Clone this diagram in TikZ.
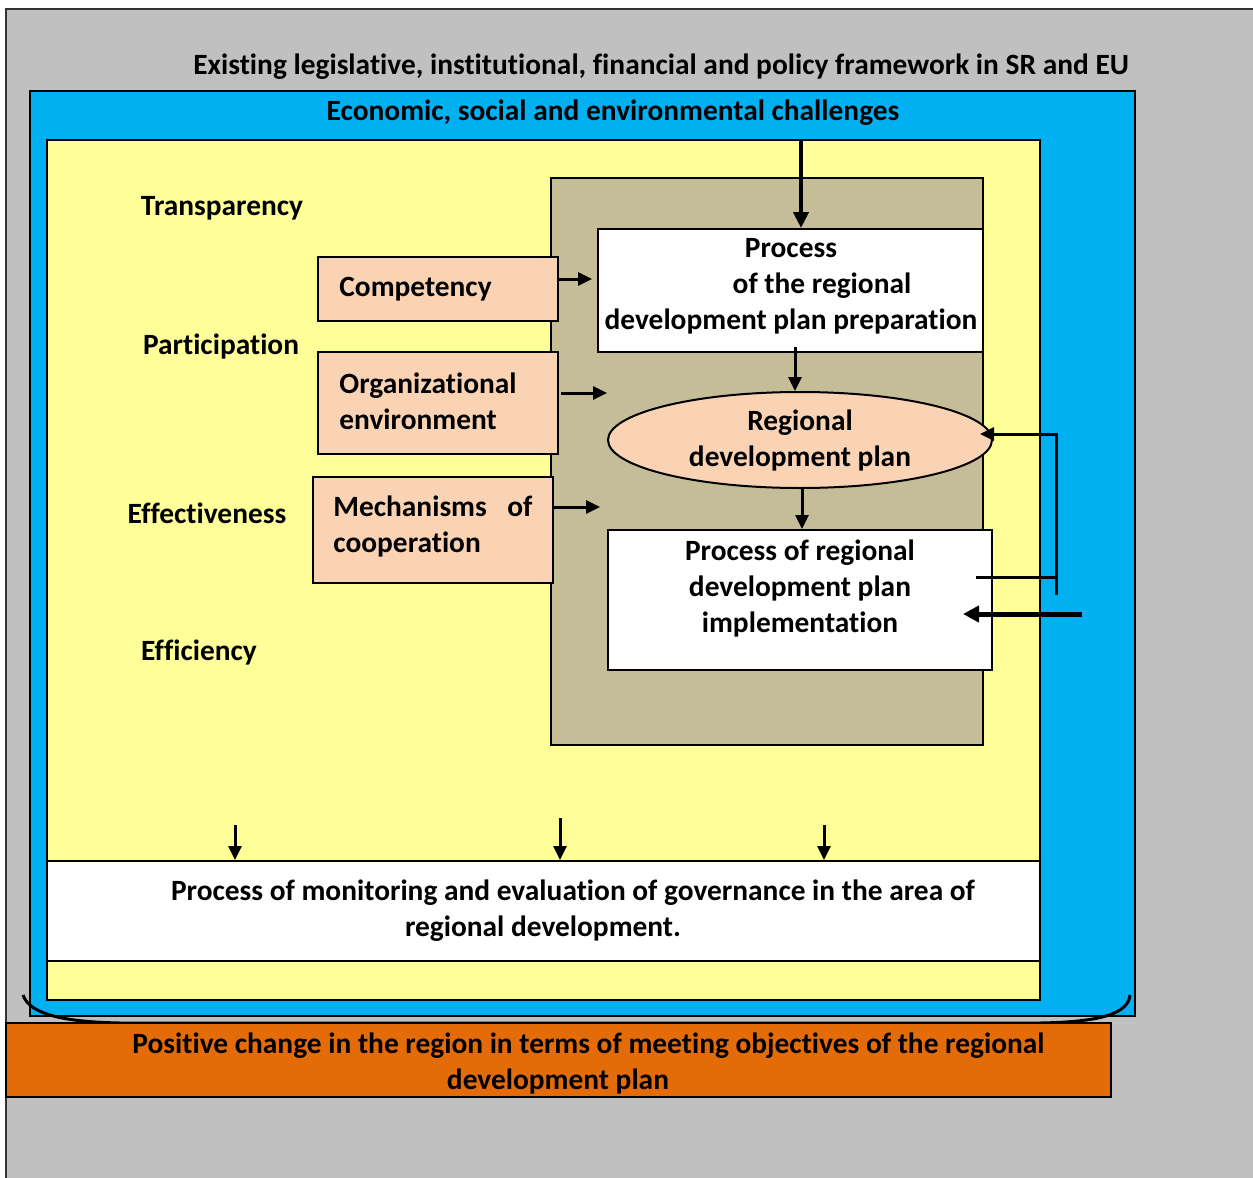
\documentclass[tikz,border=0pt]{standalone}
\usepackage{fontspec}
\setmainfont{Carlito}[RawFeature={-liga}]
\usetikzlibrary{arrows.meta,shapes.geometric}
\definecolor{bggray}{HTML}{C0C0C0}
\definecolor{skyblue}{HTML}{00B0F0}
\definecolor{paleyellow}{HTML}{FFFF99}
\definecolor{tanbox}{HTML}{C4BD97}
\definecolor{peach}{HTML}{FAD3B4}
\definecolor{orangebar}{HTML}{E36C09}
\tikzset{
  txt/.style={inner sep=0pt, font=\fontsize{14.7}{18}\selectfont\bfseries, align=center},
  ltxt/.style={inner sep=0pt, font=\fontsize{14.7}{18}\selectfont\bfseries, align=left, anchor=west},
  frame/.style={draw=black, line width=1pt, inner sep=0pt},
  arr/.style={line width=1.5pt, -{Triangle[length=7pt,width=6.5pt]}},
  bigarr/.style={line width=2pt, -{Triangle[length=8pt,width=7.5pt]}},
}
\begin{document}
\begin{tikzpicture}[x=0.5pt,y=-0.5pt]
\useasboundingbox (0,0) rectangle (1253,1178);
% outer gray area
\fill[bggray] (6,9) rectangle (1260,1185);
\draw[line width=1pt, black!80] (6,1185) -- (6,9) -- (1260,9);
% blue
\node[frame, fill=skyblue, minimum width=552.5pt, minimum height=462.5pt] (blue) at (582.5,553.5) {};
% yellow
\node[frame, fill=paleyellow, minimum width=496.5pt, minimum height=430pt] (yellow) at (543.5,570) {};
% tan
\node[frame, fill=tanbox, minimum width=216pt, minimum height=283.5pt] (tan) at (767,461.5) {};
% prep box
\node[frame, fill=white, minimum width=192.5pt, minimum height=61.5pt] (prep) at (790.5,290.5) {};
% ellipse
\node[frame, ellipse, fill=peach, minimum width=192pt, minimum height=48pt] (ell) at (800,440) {};
% implementation box
\node[frame, fill=white, minimum width=192pt, minimum height=70pt] (impl) at (800,600) {};
% left peach boxes
\node[frame, fill=peach, minimum width=120pt, minimum height=32pt] (comp) at (438,289) {};
\node[frame, fill=peach, minimum width=120pt, minimum height=51pt] (org) at (438,403) {};
\node[frame, fill=peach, minimum width=120pt, minimum height=53pt] (mech) at (433,530) {};
% monitoring box
\node[frame, fill=white, minimum width=496.5pt, minimum height=50pt] (mon) at (543.5,911) {};
% brace
\draw[line width=1.5pt] (23,995) .. controls (30,1016) and (70,1022) .. (120,1023) -- (1040,1023) .. controls (1100,1022) and (1128,1014) .. (1130,995);
% orange bar
\node[frame, fill=orangebar, minimum width=552.5pt, minimum height=37pt] (orange) at (558.5,1060) {};

% texts
\node[txt] (t0) at (661,67) {Existing legislative, institutional, financial and policy framework in SR and EU};
\node[txt] (t1) at (613,113) {Economic, social and environmental challenges};
\node[txt] (tr) at (222,208) {Transparency};
\node[txt] (pa) at (221,346) {Participation};
\node[txt] (ef) at (207,513) {Effectiveness};
\node[txt] (ec) at (199,652) {Efficiency};
\node[txt] (prept) at (791,286) {Process\\\hspace*{31pt}of the regional\\development plan preparation};
\node[txt] (ellt) at (800,440) {Regional\\development plan};
\node[txt] (implt) at (800,588) {Process of regional\\development plan\\implementation};
\node[ltxt] (compt) at (339,289) {Competency};
\node[ltxt] (orgt) at (339,401.5) {Organizational\\environment};
\node[ltxt] (mecht) at (333,526) {\makebox[99.5pt][s]{Mechanisms\hfill of}\\cooperation};
\node[txt] (mont) at (573,911) {Process of monitoring and evaluation of governance in the area of\\regional development.\hspace*{30pt}};
\node[txt] (orat) at (588.5,1063) {Positive change in the region in terms of meeting objectives of the regional\\development plan\hspace*{30.5pt}};

% connectors
\coordinate (topin) at (801,140);
\draw[bigarr] (topin) -- (prep.north -| topin);
\coordinate (c1) at (592,279);
\draw[arr] (comp.east |- c1) -- (c1);
\coordinate (c2) at (607,393);
\draw[arr] (org.east |- c2) ++(2,0) -- (c2);
\coordinate (c3) at (600,507);
\draw[arr] (mech.east |- c3) -- (c3);
\coordinate (c4) at (795,347);
\draw[arr] (c4) -- (c4 |- ell.north);
\coordinate (c5) at (802,488);
\draw[arr] (c5) -- (c5 |- impl.north);
% feedback loop
\coordinate (fb1) at (976,577);
\coordinate (fb2) at (1056,577);
\coordinate (fb3) at (1056,434);
\coordinate (fb4) at (980,434);
\draw[line width=1.5pt] (fb1) -- (fb2);
\draw[arr] ([yshift=-9pt]fb2) -- (fb3) -- (fb4);
% input arrow
\coordinate (in1) at (1082,614);
\coordinate (in2) at (963,614);
\draw[line width=2.5pt, -{Triangle[length=8pt,width=8pt]}] (in1) -- (in2);
% bottom arrows
\coordinate (b1) at (235,825);
\coordinate (b2) at (560,818);
\coordinate (b3) at (824,825);
\draw[arr] (b1) -- (b1 |- mon.north);
\draw[arr] (b2) -- (b2 |- mon.north);
\draw[arr] (b3) -- (b3 |- mon.north);
\end{tikzpicture}
\end{document}
